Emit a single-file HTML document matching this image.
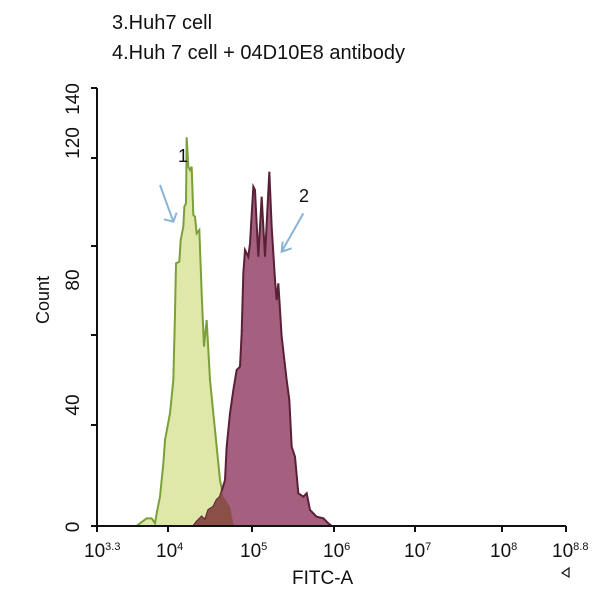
<!DOCTYPE html>
<html><head><meta charset="utf-8"><style>
body{margin:0;background:#fff}
svg{display:block;font-family:"Liberation Sans",sans-serif}
</style></head><body>
<svg width="615" height="593" viewBox="0 0 615 593">
<text x="112" y="29" font-size="20" fill="#111">3.Huh7 cell</text>
<text x="112" y="59" font-size="20" fill="#111">4.Huh 7 cell + 04D10E8 antibody</text>
<g transform="translate(60,80) scale(0.33333)">
<defs>
<clipPath id="gc"><path d="M230,1338 L240,1330 260,1315 275,1315 285,1330 290,1300 300,1250 310,1150 315,1080 330,1000 340,900 345,700 348,550 358,545 362,480 370,440 373,380 378,370 380,172 385,260 390,270 395,260 400,405 405,410 410,460 418,450 425,640 432,800 440,720 450,900 465,1050 480,1200 490,1250 510,1280 520,1330 525,1338 Z"/></clipPath>
</defs>
<path d="M230,1338 L240,1330 260,1315 275,1315 285,1330 290,1300 300,1250 310,1150 315,1080 330,1000 340,900 345,700 348,550 358,545 362,480 370,440 373,380 378,370 380,172 385,260 390,270 395,260 400,405 405,410 410,460 418,450 425,640 432,800 440,720 450,900 465,1050 480,1200 490,1250 510,1280 520,1330 525,1338 Z" fill="#dfe8a8" stroke="#7aa03a" stroke-width="6"/>
<path d="M400,1338 L410,1325 425,1310 435,1320 445,1290 460,1280 470,1260 480,1250 495,1200 500,1100 510,1000 520,930 530,870 540,860 545,760 550,580 555,510 565,530 570,490 580,320 585,330 595,530 605,350 615,530 628,275 635,440 645,600 650,660 655,610 665,770 680,900 688,960 695,1100 705,1130 715,1240 730,1250 740,1240 750,1290 770,1310 790,1315 805,1330 815,1338 Z" fill="#a4607e" stroke="#5a2038" stroke-width="6"/>
<path d="M400,1338 L410,1325 425,1310 435,1320 445,1290 460,1280 470,1260 480,1250 495,1200 500,1100 510,1000 520,930 530,870 540,860 545,760 550,580 555,510 565,530 570,490 580,320 585,330 595,530 605,350 615,530 628,275 635,440 645,600 650,660 655,610 665,770 680,900 688,960 695,1100 705,1130 715,1240 730,1250 740,1240 750,1290 770,1310 790,1315 805,1330 815,1338 Z" fill="#8a5048" clip-path="url(#gc)"/>
<path d="M300,315 L340,425 M312,418 L340,425 L350,398" fill="none" stroke="#88b4d8" stroke-width="6"/>
<path d="M730,400 L665,515 M668,485 L665,515 L695,505" fill="none" stroke="#88b4d8" stroke-width="6"/>
</g>
<text x="178" y="162" font-size="18" fill="#111">1</text>
<text x="299" y="202" font-size="18" fill="#111">2</text>
<g stroke="#111" stroke-width="2" fill="none">
<path d="M97,88 V526 H566"/>
<path d="M91,88 H97 M91,158 H97 M91,246 H97 M91,335 H97 M91,425 H97 M91,526 H97"/>
<path d="M97,526 V532 M168,526 V532 M252,526 V532 M334,526 V532 M415,526 V532 M502,526 V532 M566,526 V532"/>
</g>
<g font-size="19" fill="#111" text-anchor="middle">
<text transform="translate(79,99) rotate(-90)">140</text>
<text transform="translate(79,143) rotate(-90)">120</text>
<text transform="translate(79,280) rotate(-90)">80</text>
<text transform="translate(79,405) rotate(-90)">40</text>
<text transform="translate(79,527) rotate(-90)">0</text>
<text transform="translate(49,300) rotate(-90)" font-size="18">Count</text>
</g>
<g font-size="19" fill="#111">
<text x="84" y="557">10<tspan font-size="11" dy="-7">3.3</tspan></text>
<text x="156" y="557">10<tspan font-size="11" dy="-7">4</tspan></text>
<text x="240" y="557">10<tspan font-size="11" dy="-7">5</tspan></text>
<text x="323" y="557">10<tspan font-size="11" dy="-7">6</tspan></text>
<text x="404" y="557">10<tspan font-size="11" dy="-7">7</tspan></text>
<text x="490" y="557">10<tspan font-size="11" dy="-7">8</tspan></text>
<text x="552" y="557">10<tspan font-size="11" dy="-7">8.8</tspan></text>
<text x="292" y="584">FITC-A</text>
</g>
<path d="M569,568 L562,573 L569,577 Z" fill="none" stroke="#111" stroke-width="1.2"/>
</svg>
</body></html>
